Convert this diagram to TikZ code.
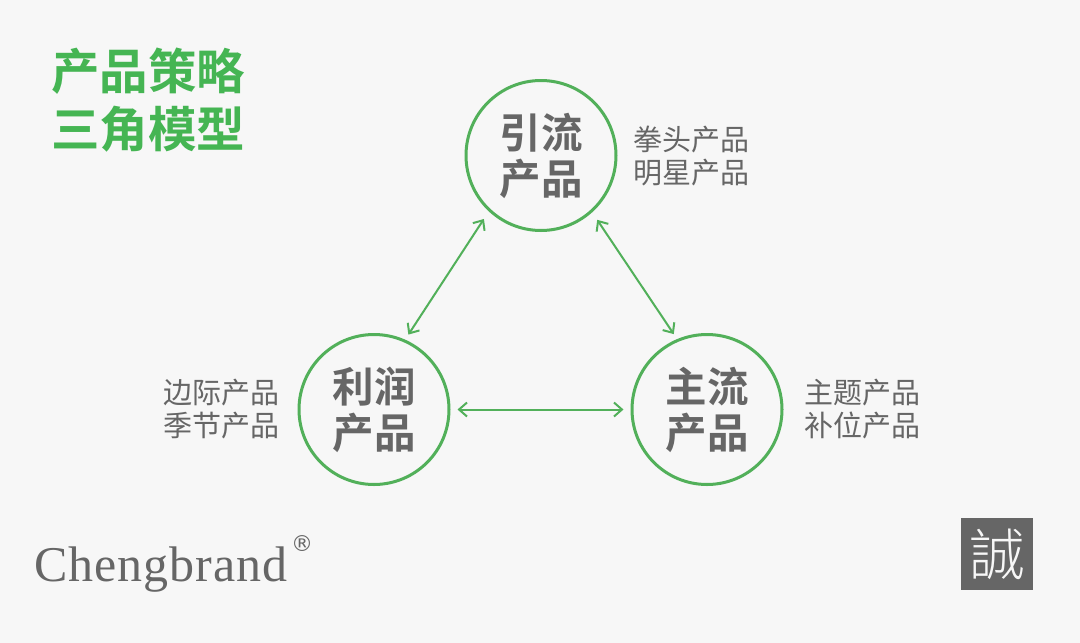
\documentclass[tikz,border=0pt]{standalone}
\usepackage{fontspec}
\setmainfont{Liberation Serif}
\newfontfamily\cjk{Noto Sans CJK SC}
\newfontfamily\cjkb{Noto Sans CJK SC Bold}
\newfontfamily\cjkl{Noto Sans CJK SC Light}
\newfontfamily\dejav{DejaVu Sans}
\newfontfamily\logofont[LetterSpace=2]{Liberation Serif}
\usetikzlibrary{arrows.meta}
\definecolor{bg}{HTML}{F7F7F7}
\definecolor{grn}{HTML}{52B05A}
\definecolor{ttl}{HTML}{45B553}
\definecolor{txt}{HTML}{666666}
\tikzset{
 x=1pt,y=-1pt,
 hub/.style={circle,draw=grn,line width=3pt,minimum size=150pt,inner sep=0pt,fill=bg,align=center,text=txt,font=\cjkb\fontsize{41.5}{46}\selectfont},
 side/.style={align=left,text=txt,inner sep=0pt,anchor=west,font=\cjk\fontsize{29}{33.5}\selectfont},
 link/.style={draw=grn,line width=2pt,{Straight Barb[length=8pt,width=14pt]}-{Straight Barb[length=8pt,width=14pt]}}
}
\begin{document}
\begin{tikzpicture}
\useasboundingbox[fill=bg] (0,0) rectangle (1080,643);
\node[hub] (a) at (541,155.5) {引流\\产品};
\node[hub] (b) at (374,409.5) {利润\\产品};
\node[hub] (c) at (707,409.5) {主流\\产品};
\draw[link,shorten <=9pt,shorten >=6pt] (a.227.8) -- (b.66.6);
\draw[link,shorten <=9pt,shorten >=6pt] (a.312.2) -- (c.113.4);
\draw[link,shorten <=7pt,shorten >=7pt] (b.east) -- (c.west);
\node[align=left,text=ttl,inner sep=0pt,anchor=west,font=\cjkb\fontsize{48.5}{58}\selectfont] (t) at (51,100) {产品策略\\三角模型};
\node[side] (s1) at (633,156) {拳头产品\\明星产品};
\node[side] (s2) at (163,409) {边际产品\\季节产品};
\node[side] (s3) at (804,409) {主题产品\\补位产品};
\node[text=txt,inner sep=0pt,anchor=base west,font=\logofont\fontsize{50}{54}\selectfont] (l) at (34,581) {Chengbrand};
\node[text=txt,inner sep=0pt,font=\dejav\fontsize{22}{24}\selectfont] (r) at (302,544) {®};
\node[fill=txt,text=bg,minimum width=72pt,minimum height=72pt,inner sep=0pt,font=\cjkl\fontsize{56}{56}\selectfont] (k) at (997,554) {誠};
\end{tikzpicture}
\end{document}
